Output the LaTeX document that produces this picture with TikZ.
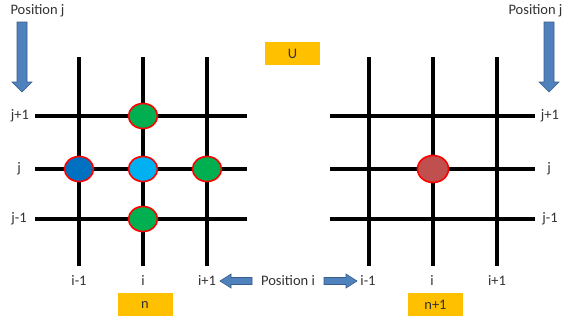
\documentclass[tikz,border=0pt]{standalone}
\usepackage{fontspec}
\setmainfont{Carlito}
\usetikzlibrary{shapes.geometric}
\definecolor{ogreen}{RGB}{0,176,80}
\definecolor{dblue}{RGB}{0,112,192}
\definecolor{lblue}{RGB}{0,176,240}
\definecolor{rednode}{RGB}{192,80,77}
\definecolor{gold}{RGB}{255,192,0}
\definecolor{arrfill}{RGB}{79,129,189}
\definecolor{arrline}{RGB}{56,93,138}
\definecolor{txt}{RGB}{50,50,50}
\begin{document}
\begin{tikzpicture}[x=1pt,y=-1pt,
  gridline/.style={line width=3.8pt,black},
  pt/.style={ellipse,draw=red,line width=1.6pt,minimum width=29pt,minimum height=25pt,inner sep=0pt},
  lbl/.style={font=\fontsize{14.5}{16}\selectfont,text=txt,inner sep=0pt},
  tag/.style={fill=gold,minimum width=55pt,minimum height=23pt,inner sep=0pt,font=\fontsize{14.5}{16}\selectfont,text=txt},
  blarrow/.style={fill=arrfill,draw=arrline,line width=0.6pt}]
\useasboundingbox (0,0) rectangle (565,322);
% left grid
\foreach \x/\n in {79/a,143/b,207/c}{
  \coordinate (L\n t) at (\x,57); \coordinate (L\n b) at (\x,266);
  \draw[gridline] (L\n t) -- (L\n b);}
\foreach \y/\n in {116/a,169/b,219/c}{
  \coordinate (L\n l) at (35,\y); \coordinate (L\n r) at (247,\y);
  \draw[gridline] (L\n l) -- (L\n r);}
% right grid
\foreach \x/\n in {369/a,433/b,497/c}{
  \coordinate (R\n t) at (\x,57); \coordinate (R\n b) at (\x,266);
  \draw[gridline] (R\n t) -- (R\n b);}
\foreach \y/\n in {116/a,169/b,219/c}{
  \coordinate (R\n l) at (330,\y); \coordinate (R\n r) at (535,\y);
  \draw[gridline] (R\n l) -- (R\n r);}
% points
\node[pt,fill=ogreen] (p1) at (143,116) {};
\node[pt,fill=dblue] (p2) at (79,169) {};
\node[pt,fill=lblue] (p3) at (143,169) {};
\node[pt,fill=ogreen] (p4) at (207,169) {};
\node[pt,fill=ogreen] (p5) at (143,219) {};
\node[pt,fill=rednode,minimum width=31pt,minimum height=27pt] (p6) at (433,169) {};
% j labels
\node[lbl] (jl1) at (20,116) {j+1};
\node[lbl] (jl2) at (19,169) {j};
\node[lbl] (jl3) at (19,219) {j-1};
\node[lbl] (jr1) at (550,116) {j+1};
\node[lbl] (jr2) at (549,169) {j};
\node[lbl] (jr3) at (550,219) {j-1};
% i labels
\node[lbl] (il1) at (79,281) {i-1};
\node[lbl] (il2) at (143,281) {i};
\node[lbl] (il3) at (207,281) {i+1};
\node[lbl] (ir1) at (368,281) {i-1};
\node[lbl] (ir2) at (432,281) {i};
\node[lbl] (ir3) at (497,281) {i+1};
% tags
\node[tag] (U) at (292.5,53.5) {U};
\node[tag] (n) at (145,304.5) {n};
\node[tag] (n1) at (435.5,304.5) {n+1};
% position labels
\node[lbl] (pjl) at (37.5,11) {Position j};
\node[lbl] (pjr) at (535.5,11) {Position j};
\node[lbl] (pi) at (288,281) {Position i};
% arrows
\draw[blarrow] (17,22) -- (27,22) -- (27,82) -- (32,82) -- (22,92) -- (12,82) -- (17,82) -- cycle;
\draw[blarrow] (544,22) -- (554,22) -- (554,82) -- (559,82) -- (549,92) -- (539,82) -- (544,82) -- cycle;
\draw[blarrow] (252,277.5) -- (231,277.5) -- (231,274) -- (220,281) -- (231,288) -- (231,284.5) -- (252,284.5) -- cycle;
\draw[blarrow] (324,277.5) -- (346,277.5) -- (346,274) -- (357,281) -- (346,288) -- (346,284.5) -- (324,284.5) -- cycle;
\end{tikzpicture}
\end{document}
